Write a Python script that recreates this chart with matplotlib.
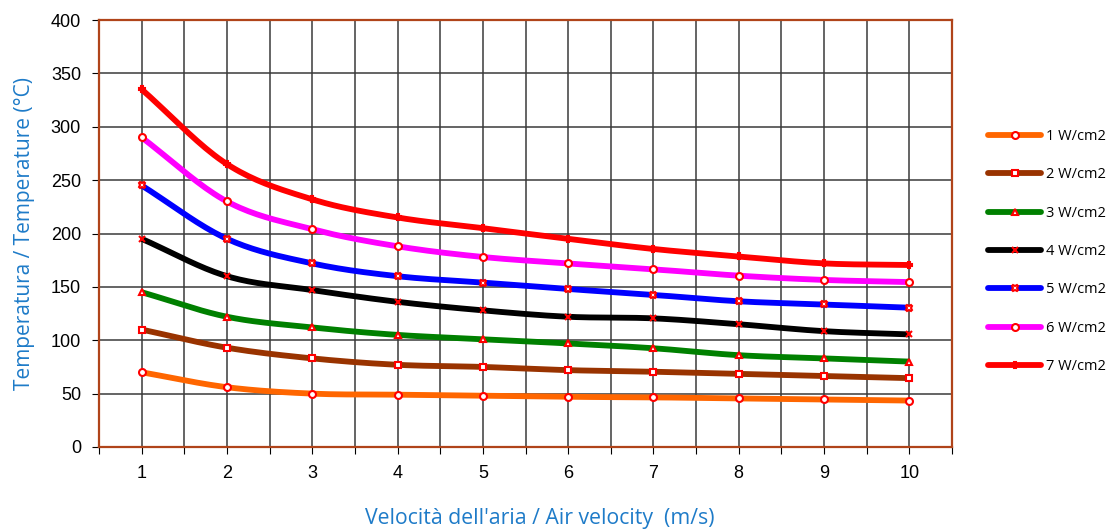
import numpy as np
import matplotlib
matplotlib.use("Agg")
import matplotlib.pyplot as plt
from matplotlib.lines import Line2D

velocity = [1, 2, 3, 4, 5, 6, 7, 8, 9, 10]
labels = ["1 W/cm2", "2 W/cm2", "3 W/cm2", "4 W/cm2", "5 W/cm2", "6 W/cm2", "7 W/cm2"]
s1 = [70, 56, 50, 49, 48, 47, 46.5, 45.5, 44.5, 43.5]
s2 = [110, 93, 83, 77, 75, 72, 70.5, 68.5, 66.5, 64.5]
s3 = [145, 122, 112, 105, 101, 97, 92.5, 86, 83, 80]
s4 = [195, 160, 147, 136, 128, 122, 120.5, 115, 108.5, 105.5]
s5 = [245, 195, 172, 160, 154, 148, 142.5, 136.5, 133.5, 130.5]
s6 = [290, 230, 204, 188, 178, 172, 166.5, 160.5, 156.5, 154.5]
s7 = [335, 265, 232, 215, 205, 195, 185.5, 178.5, 172, 170.5]
series = [s1, s2, s3, s4, s5, s6, s7]
colors = ["#FF6600", "#993300", "#008000", "#000000", "#0000FF", "#FF00FF", "#FF0000"]
markers = ["o", "s", "^", "x", "X", "o", "P"]
yticks = [0, 50, 100, 150, 200, 250, 300, 350, 400]


def smooth(x, y, n=20):
    # Catmull-Rom rendering of Excel-style smoothed line
    x = np.asarray(x, float); y = np.asarray(y, float)
    px = np.concatenate([[2 * x[0] - x[1]], x, [2 * x[-1] - x[-2]]])
    py = np.concatenate([[2 * y[0] - y[1]], y, [2 * y[-1] - y[-2]]])
    xs, ys = [], []
    t = np.linspace(0, 1, n, endpoint=False)
    for i in range(1, len(px) - 2):
        for p, out in ((px, xs), (py, ys)):
            p0, p1, p2, p3 = p[i - 1], p[i], p[i + 1], p[i + 2]
            out.extend(0.5 * ((2 * p1) + (-p0 + p2) * t + (2 * p0 - 5 * p1 + 4 * p2 - p3) * t ** 2
                              + (-p0 + 3 * p1 - 3 * p2 + p3) * t ** 3))
    xs.append(x[-1]); ys.append(y[-1])
    return np.array(xs), np.array(ys)


fig = plt.figure(figsize=(11.18, 5.31), dpi=100)
ax = fig.add_axes([0.0886, 0.1582, 0.7629, 0.8041])

handles = []
for s, c, m, lab in zip(series, colors, markers, labels):
    sx, sy = smooth(velocity, s)
    ax.plot(sx, sy, color=c, lw=4.2, solid_capstyle="butt", zorder=3)
    ax.plot(velocity, s, linestyle="none", marker=m, markersize=5, markerfacecolor="white",
            markeredgecolor="#FF0000", markeredgewidth=1.5, zorder=4)
    handles.append(Line2D([0], [0], color=c, lw=4.2, marker=m, markersize=5,
                          markerfacecolor="white", markeredgecolor="#FF0000", markeredgewidth=1.5,
                          solid_capstyle="round"))

ax.set_xlim(0.5, 10.5)
ax.set_ylim(0, 400)
ax.set_yticks(yticks)
ax.set_xticks(np.arange(0.5, 10.51, 0.5), minor=False)
ax.set_xticklabels([])
for v in velocity:
    ax.text(v, -17, str(v), ha="center", va="top", fontsize=13, family="Liberation Sans")
ax.tick_params(axis="x", which="major", length=5, direction="out", color="black")
ax.tick_params(axis="y", length=5, direction="out", labelsize=13, color="black", pad=8)
for lbl in ax.get_yticklabels():
    lbl.set_family("Liberation Sans")
ax.grid(True, color="#3a3a3a", lw=1.1)
ax.set_axisbelow(True)
for sp in ax.spines.values():
    sp.set_color("#B0441A")
    sp.set_linewidth(1.6)

ax.set_ylabel("Temperatura / Temperature (°C)", color="#1E7BC8", fontsize=15,
              family="Open Sans", labelpad=11)
fig.text(0.483, 0.003, "Velocità dell'aria / Air velocity  (m/s)", color="#1E7BC8",
         fontsize=15.3, family="Open Sans", ha="center", va="bottom")

leg = fig.legend(handles, labels, loc="upper left", bbox_to_anchor=(0.884, 0.757),
                 frameon=False, handlelength=3.6, labelspacing=1.6,
                 handletextpad=0.35, borderaxespad=0, borderpad=0,
                 prop={"family": "Open Sans", "size": 10.5})

fig.savefig("out.png", dpi=100)
